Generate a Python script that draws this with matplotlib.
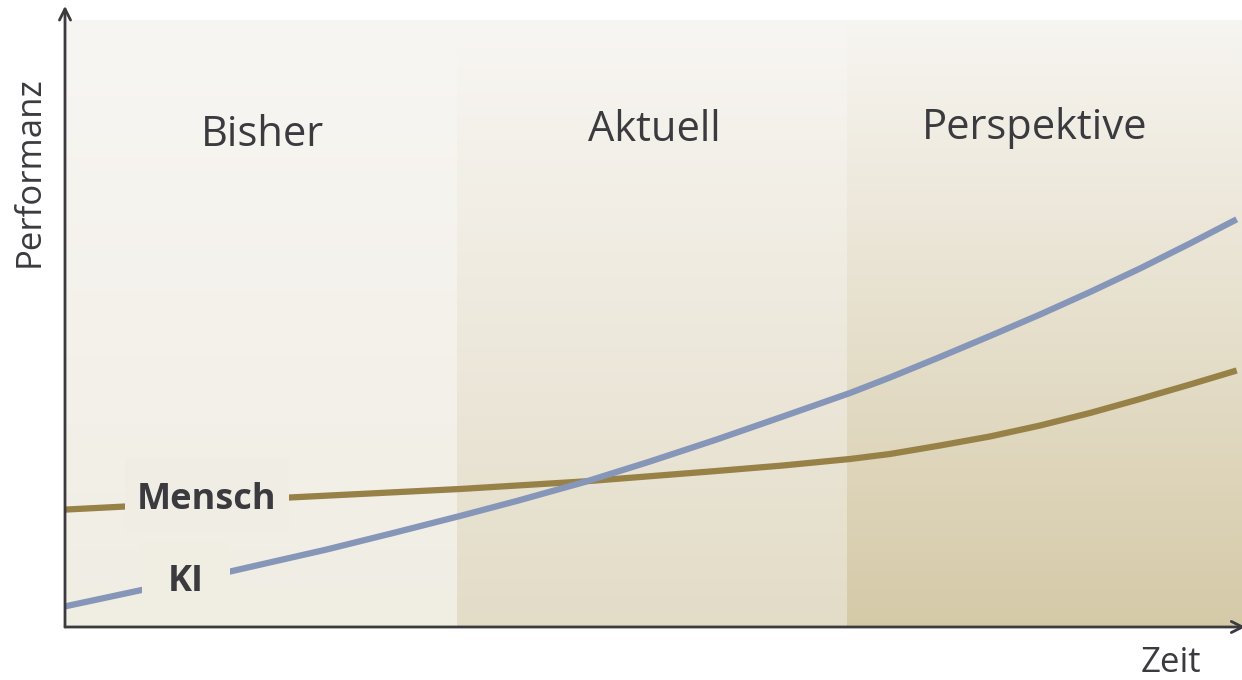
import numpy as np
import matplotlib.pyplot as plt
from matplotlib.colors import LinearSegmentedColormap
from matplotlib.patches import Rectangle

# Phasen (Zeitachse 0-100)
phasen = ["Bisher", "Aktuell", "Perspektive"]
phasen_grenzen = [0, 33.3, 66.4, 100]
phasen_farbe_oben = ["#f8f6f3", "#f8f6f3", "#f7f5f1"]
phasen_farbe_unten = ["#f0ede3", "#e3dcc7", "#d5caa8"]

# Kurven
zeit_ki = [0, 6.52, 14.02, 22.23, 27.87, 33.56, 38.38, 44.01, 49.70, 55.37,
           61.00, 66.70, 70.09, 74.34, 78.59, 82.84, 87.09, 91.33, 95.58, 99.55]
ki = [3.35, 6.02, 9.02, 12.60, 15.28, 18.05, 20.49, 23.50, 26.91, 30.49,
      34.23, 38.05, 40.57, 43.90, 47.32, 50.81, 54.47, 58.29, 62.36, 66.29]
zeit_mensch = [0, 5.10, 19.12, 33.56, 44.01, 55.37, 61.00, 66.70, 70.09, 74.34,
               78.59, 82.84, 87.09, 91.33, 95.58, 99.55]
mensch = [19.09, 19.59, 21.06, 22.44, 23.66, 25.37, 26.26, 27.32, 28.13, 29.51,
          30.98, 32.76, 34.80, 37.07, 39.43, 41.71]

text_farbe = "#3a3a3f"
plt.rcParams['font.family'] = ['Open Sans', 'DejaVu Sans']

fig = plt.figure(figsize=(12.42, 6.8), dpi=100)
ax = fig.add_axes([65/1242, 53/680, 1177/1242, 615/680])
ax.set_xlim(0, 100)
ax.set_ylim(0, 100)
ax.axis("off")

top = (627 - 20) / 615 * 100
titel_x = [16.75, 50.1, 82.4]
titel_y = [80.0, 80.8, 81.1]
for i, name in enumerate(phasen):
    cmap = LinearSegmentedColormap.from_list(name, [phasen_farbe_oben[i], phasen_farbe_unten[i]])
    grad = np.linspace(0, 1, 256).reshape(-1, 1)
    ax.imshow(grad, cmap=cmap, aspect="auto", origin="upper",
              extent=[phasen_grenzen[i], phasen_grenzen[i + 1], 0, top], zorder=0)
    ax.text(titel_x[i], titel_y[i], name, ha="center", va="center",
            fontsize=30, color=text_farbe, zorder=5)

ax.plot(zeit_mensch, mensch, color="#978147", lw=4.5, zorder=2,
        solid_capstyle="butt", solid_joinstyle="round")
ax.plot(zeit_ki, ki, color="#8696b8", lw=4.5, zorder=2,
        solid_capstyle="butt", solid_joinstyle="round")

# Beschriftungen mit Hintergrund, die Linien unterbrechen
ax.add_patch(Rectangle(((125 - 65) / 11.77, (627 - 533) / 6.15), 164 / 11.77, 75 / 6.15,
                       facecolor="#f0ede4", edgecolor="none", zorder=3))
ax.add_patch(Rectangle(((142 - 65) / 11.77, (627 - 614) / 6.15), 88 / 11.77, 72 / 6.15,
                       facecolor="#f0ede3", edgecolor="none", zorder=3))
ax.text((207 - 65) / 11.77, (627 - 500) / 6.15, "Mensch", ha="center", va="center",
        fontsize=26, fontweight="bold", color=text_farbe, zorder=4)
ax.text((186 - 65) / 11.77, (627 - 582) / 6.15, "KI", ha="center", va="center",
        fontsize=26, fontweight="bold", color=text_farbe, zorder=4)

# Achsen mit Pfeilen
ax.annotate("", xy=(0, 101), xytext=(0, 0), annotation_clip=False,
            arrowprops=dict(arrowstyle="->,head_length=0.8,head_width=0.4", color="#3b3b3f", lw=2, shrinkA=0, shrinkB=0))
ax.annotate("", xy=(100.3, 0), xytext=(0, 0), annotation_clip=False,
            arrowprops=dict(arrowstyle="->,head_length=0.8,head_width=0.4", color="#3b3b3f", lw=2, shrinkA=0, shrinkB=0))

fig.text(30/1242, 1 - 172/680, "Performanz", rotation=90, ha="center", va="center",
         fontsize=25, color=text_farbe)
fig.text(1171/1242, 1 - 663/680, "Zeit", ha="center", va="center",
         fontsize=25, color=text_farbe)

fig.savefig("out.png", dpi=100, facecolor="white")
